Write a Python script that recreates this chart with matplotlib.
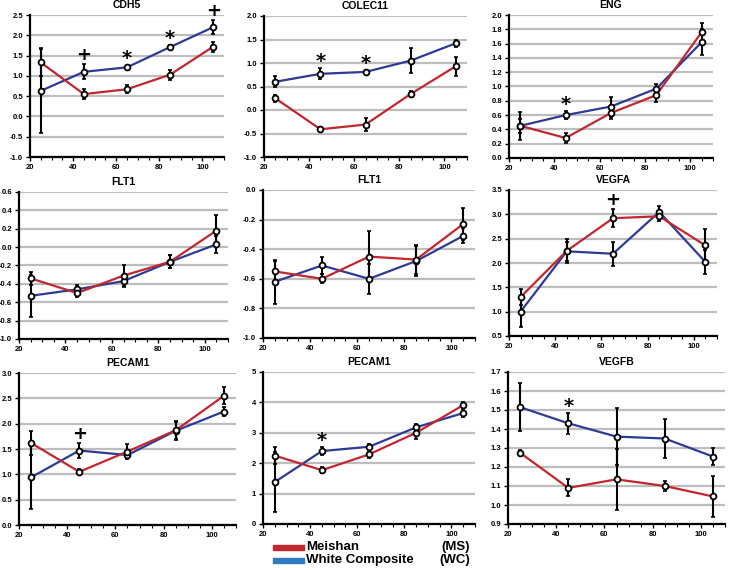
import numpy as np
import matplotlib
matplotlib.use("Agg")
import matplotlib.pyplot as plt
from matplotlib.ticker import MultipleLocator

plt.rcParams['font.family'] = ['Liberation Sans', 'DejaVu Sans']

# days (x positions shared by all panels)
days = [25, 45, 65, 85, 105]

# CDH5
cdh5_ms = [1.33, 0.55, 0.67, 1.03, 1.72]
cdh5_ms_err = [0.33, 0.12, 0.10, 0.12, 0.12]
cdh5_wc = [0.63, 1.10, 1.21, 1.71, 2.20]
cdh5_wc_err = [1.05, 0.18, 0.04, 0.04, 0.17]
cdh5_marks = [(45, '+'), (65, '*'), (85, '*'), (105, '+')]

# COLEC11
colec11_ms = [0.25, -0.41, -0.31, 0.34, 0.93]
colec11_ms_err = [0.07, 0.04, 0.14, 0.06, 0.20]
colec11_wc = [0.60, 0.77, 0.81, 1.05, 1.42]
colec11_wc_err = [0.12, 0.12, 0.04, 0.27, 0.08]
colec11_marks = [(45, '*'), (65, '*')]

# ENG
eng_ms = [0.45, 0.28, 0.63, 0.88, 1.76]
eng_ms_err = [0.10, 0.07, 0.09, 0.10, 0.13]
eng_wc = [0.45, 0.60, 0.72, 0.97, 1.62]
eng_wc_err = [0.20, 0.06, 0.14, 0.06, 0.18]
eng_marks = [(45, '*')]

# FLT1 (left)
flt1a_ms = [-0.34, -0.50, -0.31, -0.16, 0.18]
flt1a_ms_err = [0.07, 0.04, 0.11, 0.07, 0.17]
flt1a_wc = [-0.53, -0.46, -0.37, -0.16, 0.03]
flt1a_wc_err = [0.23, 0.05, 0.06, 0.07, 0.09]

# FLT1 (middle)
flt1b_ms = [-0.55, -0.60, -0.45, -0.47, -0.23]
flt1b_ms_err = [0.07, 0.03, 0.17, 0.10, 0.11]
flt1b_wc = [-0.62, -0.51, -0.60, -0.48, -0.31]
flt1b_wc_err = [0.15, 0.06, 0.10, 0.10, 0.05]

# VEGFA
vegfa_ms = [1.30, 2.25, 2.92, 2.96, 2.36]
vegfa_ms_err = [0.16, 0.25, 0.19, 0.10, 0.34]
vegfa_wc = [1.00, 2.24, 2.19, 3.05, 2.02]
vegfa_wc_err = [0.31, 0.20, 0.25, 0.12, 0.25]
vegfa_marks = [(65, '+')]

# PECAM1 (left)
pecam1a_ms = [1.62, 1.05, 1.45, 1.87, 2.55]
pecam1a_ms_err = [0.24, 0.05, 0.14, 0.18, 0.17]
pecam1a_wc = [0.94, 1.47, 1.38, 1.86, 2.24]
pecam1a_wc_err = [0.62, 0.14, 0.05, 0.18, 0.08]
pecam1a_marks = [(45, '+')]

# PECAM1 (middle)
pecam1b_ms = [2.25, 1.77, 2.29, 3.00, 3.91]
pecam1b_ms_err = [0.27, 0.10, 0.13, 0.20, 0.10]
pecam1b_wc = [1.38, 2.40, 2.54, 3.18, 3.65]
pecam1b_wc_err = [1.00, 0.14, 0.10, 0.10, 0.12]
pecam1b_marks = [(45, '*')]

# VEGFB
vegfb_ms = [1.275, 1.09, 1.135, 1.10, 1.045]
vegfb_ms_err = [0.012, 0.045, 0.16, 0.025, 0.11]
vegfb_wc = [1.515, 1.43, 1.36, 1.35, 1.255]
vegfb_wc_err = [0.125, 0.055, 0.15, 0.105, 0.045]
vegfb_marks = [(45, '*')]

red = '#C1272D'
blue = '#2E3A97'
legend_blue = '#2E7BC4'

W, H = 729, 570
# title, data, marks, pixel box (left, top, right, bottom), ylim, ystep, tick format
panels = [
    ('CDH5', cdh5_ms, cdh5_ms_err, cdh5_wc, cdh5_wc_err, cdh5_marks,
     (30, 15, 224, 157), (-1.0, 2.5), 0.5, '%.1f'),
    ('COLEC11', colec11_ms, colec11_ms_err, colec11_wc, colec11_wc_err, colec11_marks,
     (264, 16, 467, 157), (-1.0, 2.0), 0.5, '%.1f'),
    ('ENG', eng_ms, eng_ms_err, eng_wc, eng_wc_err, eng_marks,
     (509, 15, 713, 158), (0.0, 2.0), 0.2, '%.1f'),
    ('FLT1', flt1a_ms, flt1a_ms_err, flt1a_wc, flt1a_wc_err, [],
     (19, 192, 228, 339), (-1.0, 0.6), 0.2, '%.1f'),
    ('FLT1', flt1b_ms, flt1b_ms_err, flt1b_wc, flt1b_wc_err, [],
     (263, 190, 475, 338), (-1.0, 0.0), 0.2, '%.1f'),
    ('VEGFA', vegfa_ms, vegfa_ms_err, vegfa_wc, vegfa_wc_err, vegfa_marks,
     (509, 190, 717, 336), (0.5, 3.5), 0.5, '%.1f'),
    ('PECAM1', pecam1a_ms, pecam1a_ms_err, pecam1a_wc, pecam1a_wc_err, pecam1a_marks,
     (19, 373, 236, 525), (0.0, 3.0), 0.5, '%.1f'),
    ('PECAM1', pecam1b_ms, pecam1b_ms_err, pecam1b_wc, pecam1b_wc_err, pecam1b_marks,
     (263, 372, 475, 524), (0, 5), 1, '%d'),
    ('VEGFB', vegfb_ms, vegfb_ms_err, vegfb_wc, vegfb_wc_err, vegfb_marks,
     (508, 372, 725, 524), (0.9, 1.7), 0.1, '%.1f'),
]

fig = plt.figure(figsize=(W / 100, H / 100), dpi=100)

for title, ms, ms_err, wc, wc_err, marks, box, ylim, ystep, fmt in panels:
    l, t, r, b = box
    ax = fig.add_axes([l / W, 1 - b / H, (r - l) / W, (b - t) / H])
    ax.set_xlim(20, 110)
    ax.set_ylim(*ylim)
    ax.yaxis.set_major_locator(MultipleLocator(ystep))
    ax.yaxis.set_major_formatter(matplotlib.ticker.FormatStrFormatter(fmt))
    ax.xaxis.set_major_locator(MultipleLocator(20))
    ax.xaxis.set_minor_locator(MultipleLocator(5))
    ax.grid(axis='y', color='#BDBDBD', lw=1.6, zorder=0)
    ax.set_axisbelow(True)
    for s in ['top', 'right']:
        ax.spines[s].set_visible(False)
    for s in ['left', 'bottom']:
        ax.spines[s].set_linewidth(1.6)
    ax.tick_params(axis='both', labelsize=5.5, width=1.0, length=3, pad=2)
    ax.tick_params(axis='x', which='minor', width=0.8, length=2)
    for lab in ax.get_xticklabels() + ax.get_yticklabels():
        lab.set_fontweight('bold')
    ax.set_title(title, fontsize=7.5, fontweight='bold', pad=5)

    for vals, errs, col in [(wc, wc_err, blue), (ms, ms_err, red)]:
        ax.plot(days, vals, color=col, lw=1.6, zorder=3)
        ax.errorbar(days, vals, yerr=errs, fmt='none', ecolor='black',
                    elinewidth=1.5, capsize=1.5, capthick=1.2, zorder=4)
        ax.plot(days, vals, 'o', ms=4.2, mfc='white', mec='black', mew=1.3, zorder=5)

    # significance marks above the highest error bar
    for x, sym in marks:
        i = days.index(x)
        top = max(ms[i] + ms_err[i], wc[i] + wc_err[i])
        if sym == '*':
            ax.annotate(sym, (x, top), xytext=(0, -2), textcoords='offset points',
                        ha='center', va='bottom', fontsize=14, fontweight='bold',
                        family='DejaVu Sans', annotation_clip=False)
        else:
            ax.annotate(sym, (x, top), xytext=(0, 0), textcoords='offset points',
                        ha='center', va='bottom', fontsize=13, fontweight='bold',
                        family='DejaVu Sans', annotation_clip=False)

# legend
fig.patches.append(plt.Rectangle((273 / W, 1 - 550 / H), 31 / W, 5 / H,
                                 transform=fig.transFigure, color=red))
fig.patches.append(plt.Rectangle((273 / W, 1 - 563 / H), 31 / W, 5 / H,
                                 transform=fig.transFigure, color=legend_blue))
fig.text(306 / W, 1 - 547 / H, 'Meishan', fontsize=9.5, fontweight='bold', va='center')
fig.text(306 / W, 1 - 560 / H, 'White Composite', fontsize=9.5, fontweight='bold', va='center')
fig.text(470 / W, 1 - 547 / H, '(MS)', fontsize=9.5, fontweight='bold', va='center', ha='right')
fig.text(470 / W, 1 - 560 / H, '(WC)', fontsize=9.5, fontweight='bold', va='center', ha='right')

fig.savefig('out.png', dpi=100)
